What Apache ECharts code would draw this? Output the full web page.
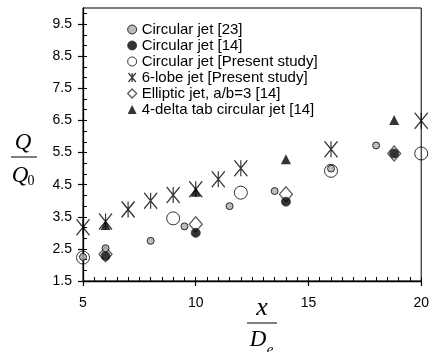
<!DOCTYPE html>
<html><head><meta charset="utf-8">
<script src="https://cdn.jsdelivr.net/npm/echarts@6/dist/echarts.min.js"></script>
<style>html,body{margin:0;padding:0;background:#fff}#c{width:432px;height:352px}</style>
</head><body><div id="c"></div>
<script>
// ---- data ----
const seriesNames = [
  'Circular jet [23]',
  'Circular jet [14]',
  'Circular jet [Present study]',
  '6-lobe jet [Present study]',
  'Elliptic jet, a/b=3 [14]',
  '4-delta tab circular jet [14]'
];
const circular23 = [[5,2.25],[6,2.52],[8,2.75],[9.5,3.2],[11.5,3.83],[13.5,4.3],[16,5.0],[18,5.72]];
const circular14 = [[6,2.28],[10,3.0],[14,3.97],[18.8,5.47]];
const circularPresent = [[5,2.23],[9,3.45],[12,4.25],[16,4.93],[20,5.47]];
const lobe6Present = [[5,3.17],[6,3.35],[7,3.73],[8,4.0],[9,4.18],[10,4.36],[11,4.67],[12,5.01],[16,5.6],[20,6.49]];
const elliptic14 = [[6,2.33],[10,3.27],[14,4.2],[18.8,5.47]];
const deltaTab14 = [[6,3.24],[10,4.28],[14,5.29],[18.8,6.51]];
const xTicks = [5, 10, 15, 20];
const yTicks = [1.5, 2.5, 3.5, 4.5, 5.5, 6.5, 7.5, 8.5, 9.5];
const xRange = [5, 20];
const yRange = [1.5, 10];

// ---- chart ----
const chart = echarts.init(document.getElementById('c'), null, {renderer: 'canvas'});
const starPath = 'path://M0,0L13,16M13,0L0,16M6.5,0L6.5,16';
const yMinor = [];
for (let i = 0; i < yTicks.length; i++) { yMinor.push(yTicks[i] + 1/3, yTicks[i] + 2/3); }
const xMinor = [];
for (let v = xRange[0]; v <= xRange[1] + 1e-9; v += 0.5) { xMinor.push(+v.toFixed(1)); }
const textFont = 'Liberation Sans';

const styles = {
  [seriesNames[0]]: {symbol: 'circle', size: 7, itemStyle: {color: '#aaaaaa', borderColor: '#000', borderWidth: 1}, z: 8},
  [seriesNames[1]]: {symbol: 'circle', size: 9, itemStyle: {color: '#000', borderColor: '#333', borderWidth: 1}, z: 7},
  [seriesNames[2]]: {symbol: 'circle', size: 13, itemStyle: {color: 'rgba(255,255,255,0)', borderColor: '#000', borderWidth: 1}, z: 6},
  [seriesNames[3]]: {symbol: starPath, size: [13, 16], itemStyle: {color: 'rgba(0,0,0,0)', borderColor: '#000', borderWidth: 1.3}, z: 5},
  [seriesNames[4]]: {symbol: 'diamond', size: [13, 15], itemStyle: {color: 'rgba(255,255,255,0)', borderColor: '#333', borderWidth: 1.3}, z: 3},
  [seriesNames[5]]: {symbol: 'triangle', size: 10, itemStyle: {color: '#000', borderColor: '#000', borderWidth: 0}, z: 4}
};
const dataArr = [circular23, circular14, circularPresent, lobe6Present, elliptic14, deltaTab14];

const series = seriesNames.map((n, i) => ({
  name: n,
  type: 'scatter',
  data: dataArr[i],
  symbol: styles[n].symbol,
  symbolSize: styles[n].size,
  symbolKeepAspect: false,
  itemStyle: styles[n].itemStyle,
  z: styles[n].z,
  silent: true,
  animation: false
}));

const legendData = seriesNames.map((n, i) => ({
  name: n,
  icon: styles[n].symbol,
  itemStyle: Object.assign({}, styles[n].itemStyle, {borderWidth: i === 3 ? 1.2 : styles[n].itemStyle.borderWidth})
}));

const axisCommon = {
  type: 'value',
  splitLine: {show: false},
  axisLine: {show: true, onZero: false, lineStyle: {color: '#000', width: 1.3}},
};

chart.setOption({
  animation: false,
  backgroundColor: '#fff',
  grid: {left: 83, right: 9, top: 8, bottom: 71, show: true, borderColor: '#000', borderWidth: 1, backgroundColor: 'rgba(0,0,0,0)'},
  legend: {
    data: legendData,
    orient: 'vertical',
    left: 122,
    top: 17,
    itemWidth: 9,
    itemHeight: 9,
    itemGap: 1,
    selectedMode: false,
    textStyle: {fontFamily: textFont, fontSize: 15, lineHeight: 15, color: '#000'}
  },
  xAxis: [
    Object.assign({}, axisCommon, {
      min: xRange[0], max: xRange[1], interval: 5,
      axisTick: {show: true, inside: false, length: 5, lineStyle: {color: '#000', width: 1.2}},
      axisLabel: {show: true, margin: 15, fontFamily: textFont, fontSize: 14, color: '#000', customValues: xTicks},
      minorTick: {show: false}
    }),
    Object.assign({}, axisCommon, {
      position: 'bottom',
      min: xRange[0], max: xRange[1], interval: 5,
      axisLine: {show: false},
      axisTick: {show: true, inside: true, length: 4, customValues: xMinor, lineStyle: {color: '#000', width: 1}},
      axisLabel: {show: false},
      minorTick: {show: false}
    })
  ],
  yAxis: [
    Object.assign({}, axisCommon, {
      min: yRange[0], max: yRange[1],
      axisTick: {show: true, inside: false, length: 5, customValues: yTicks, lineStyle: {color: '#000', width: 1.2}},
      axisLabel: {show: true, margin: 11, fontFamily: textFont, fontSize: 14, color: '#000', customValues: yTicks,
                  formatter: v => v.toFixed(1)},
      minorTick: {show: false}
    }),
    Object.assign({}, axisCommon, {
      position: 'left',
      min: yRange[0], max: yRange[1],
      axisLine: {show: false},
      axisTick: {show: true, inside: true, length: 4, customValues: yTicks.concat(yMinor).filter(v => v < yRange[1]), lineStyle: {color: '#000', width: 1}},
      axisLabel: {show: false},
      minorTick: {show: false}
    })
  ],
  graphic: [
    {type: 'text', x: 23, y: 143, style: {text: 'Q', font: 'italic 23px "Liberation Serif"', fill: '#000', textAlign: 'center', textVerticalAlign: 'middle'}},
    {type: 'line', shape: {x1: 11, y1: 157, x2: 37, y2: 157}, style: {stroke: '#000', lineWidth: 1}},
    {type: 'text', x: 20, y: 176, style: {text: 'Q', font: 'italic 23px "Liberation Serif"', fill: '#000', textAlign: 'center', textVerticalAlign: 'middle'}},
    {type: 'text', x: 31, y: 181, style: {text: '0', font: '14px "Liberation Serif"', fill: '#000', textAlign: 'center', textVerticalAlign: 'middle'}},
    {type: 'text', x: 262, y: 308, style: {text: 'x', font: 'italic 26px "Liberation Serif"', fill: '#000', textAlign: 'center', textVerticalAlign: 'middle'}},
    {type: 'line', shape: {x1: 247, y1: 323, x2: 277, y2: 323}, style: {stroke: '#000', lineWidth: 1}},
    {type: 'text', x: 258, y: 340, style: {text: 'D', font: 'italic 23px "Liberation Serif"', fill: '#000', textAlign: 'center', textVerticalAlign: 'middle'}},
    {type: 'text', x: 270, y: 350, style: {text: 'e', font: 'italic 15px "Liberation Serif"', fill: '#000', textAlign: 'center', textVerticalAlign: 'middle'}}
  ],
  series: series
});
</script>
</body></html>
